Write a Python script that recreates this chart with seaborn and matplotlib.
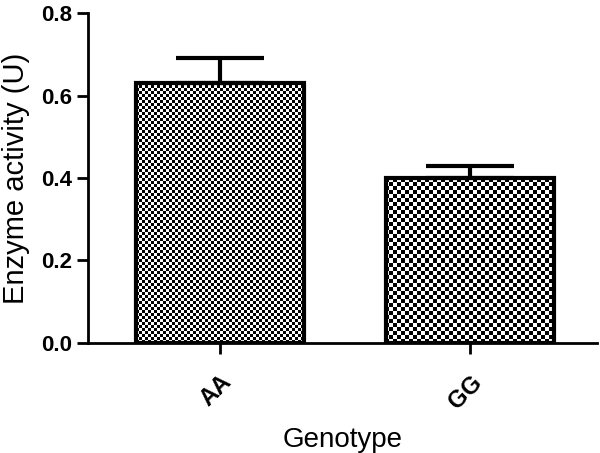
import numpy as np
import pandas as pd
import matplotlib
matplotlib.use("Agg")
import matplotlib.pyplot as plt
import seaborn as sns

genotypes = ["AA", "GG"]
activity = [0.63, 0.40]
sem = [0.06, 0.03]
yticks = [0.0, 0.2, 0.4, 0.6, 0.8]
ytick_labels = ["0.0", "0.2", "0.4", "0.6", "0.8"]
checker_cell_px = [3, 4]  # texture cell size per bar

sns.set_theme(style="ticks")
plt.rcParams["font.family"] = ["Liberation Sans", "DejaVu Sans"]
plt.rcParams["text.color"] = "black"
plt.rcParams["axes.labelcolor"] = "black"
plt.rcParams["xtick.color"] = "black"
plt.rcParams["ytick.color"] = "black"

df = pd.DataFrame({"Genotype": genotypes, "Activity": activity})

fig = plt.figure(figsize=(6.0, 4.53), dpi=100)
ax = fig.add_axes([0.147, 0.243, 0.848, 0.728])

sns.barplot(data=df, x="Genotype", y="Activity", ax=ax, width=0.672,
            errorbar=None, color="white", edgecolor="black", linewidth=3)

ax.set_xlim(-0.528, 1.508)
ax.set_ylim(0, 0.8)

# checkerboard textures clipped to each bar
W_px = 0.848 * 600
H_px = 0.728 * 453
xl = ax.get_xlim(); yl = ax.get_ylim()
for patch, c in zip(ax.patches, checker_cell_px):
    patch.set_facecolor("none")
    patch.set_zorder(3)
    nx = int(round(W_px / c)); ny = int(round(H_px / c))
    ii, jj = np.indices((ny, nx))
    board = ((ii + jj) % 2).astype(float)
    im = ax.imshow(board, cmap="gray", extent=(xl[0], xl[1], yl[0], yl[1]),
                   aspect="auto", interpolation="nearest", zorder=2, origin="lower")
    im.set_clip_path(patch)
ax.set_xlim(xl); ax.set_ylim(yl)

ax.errorbar(x=[0, 1], y=activity, yerr=[[0, 0], sem], fmt="none", ecolor="black",
            elinewidth=3, capsize=32, capthick=3, zorder=4)

ax.set_yticks(yticks)
ax.set_yticklabels(ytick_labels, fontsize=16, fontweight="bold", color="black")
ax.set_xticks([0, 1])
ax.set_xticklabels(genotypes, fontsize=17, fontweight="bold", rotation=45, ha="right",
                   rotation_mode="anchor", color="black")
ax.tick_params(axis="both", direction="out", length=8, width=2, color="black")
ax.tick_params(axis="x", pad=12)
ax.set_xlabel("Genotype", fontsize=20, labelpad=10, color="black")
ax.set_ylabel("Enzyme activity (U)", fontsize=21, labelpad=8, color="black")

sns.despine(ax=ax)
for s in ["left", "bottom"]:
    ax.spines[s].set_linewidth(2)
    ax.spines[s].set_color("black")

fig.savefig("out.png", dpi=100)
